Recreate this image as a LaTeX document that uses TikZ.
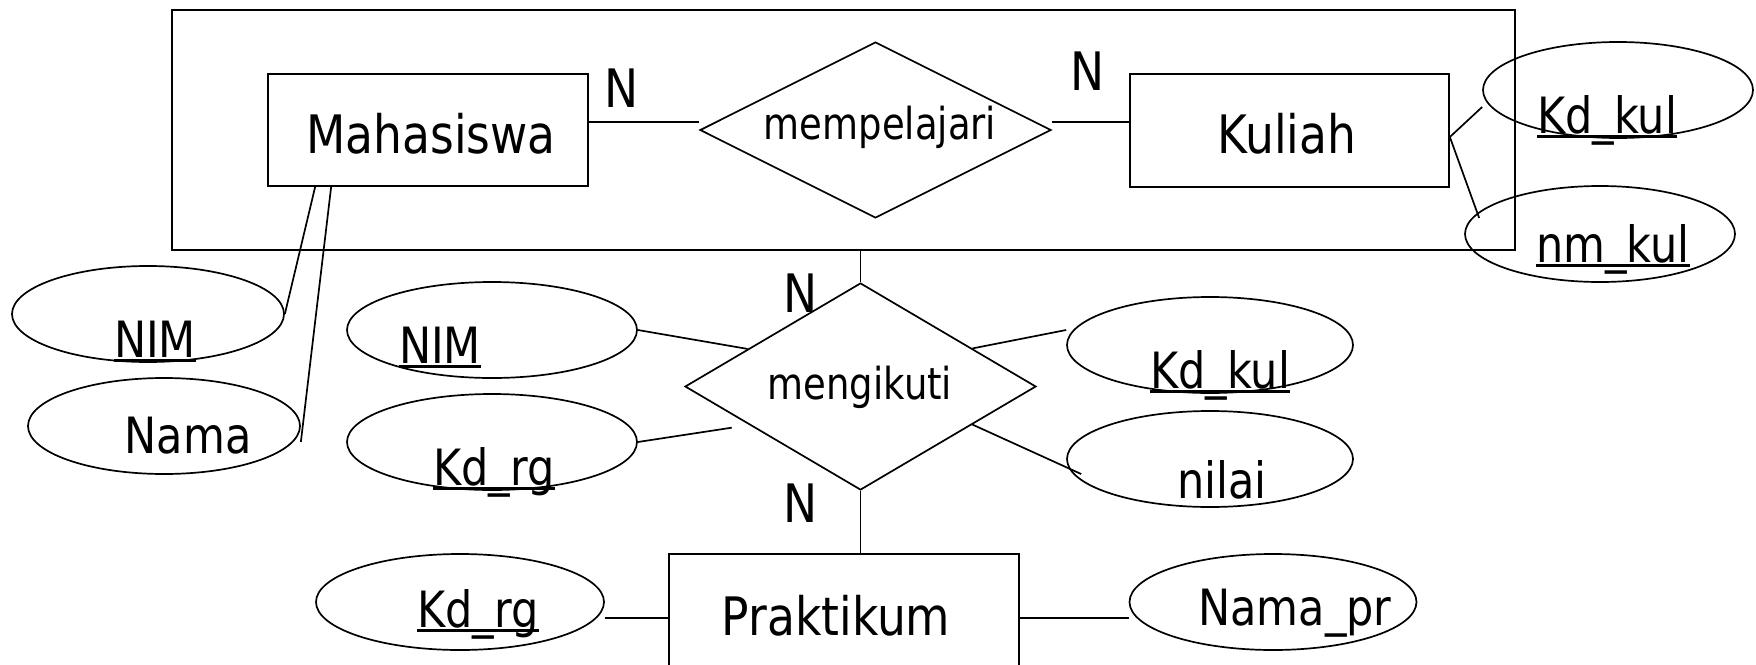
\documentclass[tikz,border=0pt]{standalone}
\usepackage{fontspec}
\setmainfont{DejaVu Sans}[FakeStretch=0.86]
\newfontfamily\relfont{DejaVu Sans}[FakeStretch=0.84]
\usetikzlibrary{shapes.geometric,calc}
\newcommand\ulx[1]{\setbox0\hbox{#1}\rlap{\vrule width\wd0 height -2pt depth 5pt}\box0}
\begin{document}
\begin{tikzpicture}[x=1pt,y=-1pt,line width=1.7pt,
  box/.style={draw,rectangle,inner sep=0pt},
  rel/.style={draw,diamond,inner sep=0pt},
  attr/.style={draw,ellipse,inner sep=0pt,minimum width=#1,minimum height=96pt},
  enttext/.style={font=\fontsize{53}{60}\selectfont,anchor=base,inner sep=0pt},
  reltext/.style={font=\relfont\fontsize{44}{50}\selectfont,anchor=base,inner sep=0pt},
  cardtext/.style={font=\fontsize{53}{60}\selectfont,anchor=base,inner sep=0pt},
  atttext/.style={font=\fontsize{50}{56}\selectfont,anchor=base,inner sep=0pt}]
\useasboundingbox (0,0) rectangle (1756,664);
\clip (0,0) rectangle (1756,664);
% aggregation box
\node[box,minimum width=1343pt,minimum height=240pt] (agg) at (843.5,130) {};
% entities
\node[box,minimum width=320pt,minimum height=112pt] (mhs) at (428,130) {};
\node[box,minimum width=319pt,minimum height=113pt] (kul) at (1289.5,130.5) {};
\node[box,minimum width=350pt,minimum height=128pt] (pr) at (844,618) {};
% relationships
\node[rel,minimum width=351pt,minimum height=176pt] (mp) at (875.5,130) {};
\node[rel,minimum width=351pt,minimum height=207pt] (mg) at (860.5,386.5) {};
% attributes
\node[attr=272pt] (anim1) at (148,314) {};
\node[attr=272pt] (anama) at (164,426) {};
\node[attr=290pt] (anim2) at (492,330) {};
\node[attr=290pt] (akdrg2) at (492,442) {};
\node[attr=286pt] (akdkul2) at (1210,345) {};
\node[attr=286pt] (anilai) at (1210,459) {};
\node[attr=270pt] (akdkul1) at (1618,90) {};
\node[attr=270pt] (anmkul) at (1600,234) {};
\node[attr=288pt] (akdrg3) at (460,602) {};
\node[attr=287pt] (anamapr) at (1273,602) {};
% texts
\node[enttext] (tmhs) at (431,153) {Mahasiswa};
\node[enttext] (tkul) at (1287,153) {Kuliah};
\node[enttext] (tpr) at (836,635) {Praktikum};
\node[reltext] (tmp) at (880,139) {mempelajari};
\node[reltext] (tmg) at (860,399) {mengikuti};
\node[cardtext] (n1) at (622,107) {N};
\node[cardtext] (n2) at (1088,90) {N};
\node[cardtext] (n3) at (801,312) {N};
\node[cardtext] (n4) at (801,522) {N};
\node[atttext] (tnim1) at (155,357) {\ulx{NIM}};
\node[atttext] (tnama) at (188,453) {Nama};
\node[atttext] (tnim2) at (440,363) {\ulx{NIM}};
\node[atttext] (tkdrg2) at (494,485) {\ulx{Kd\_rg}};
\node[atttext] (tkdkul2) at (1220,388) {\ulx{Kd\_kul}};
\node[atttext] (tnilai) at (1222,498) {nilai};
\node[atttext] (tkdkul1) at (1607,133) {\ulx{Kd\_kul}};
\node[atttext] (tnmkul) at (1613,262) {\ulx{nm\_kul}};
\node[atttext] (tkdrg3) at (478,627) {\ulx{Kd\_rg}};
\node[atttext] (tnamapr) at (1295,625) {Nama\_pr};
% connectors
\draw ([xshift=48pt]mhs.south west) -- (anim1.east);
\draw ([xshift=64pt]mhs.south west) -- ($(anama.east)+(0,16)$);
\draw ($(mhs.east)+(0,-8)$) -- ($(mp.west)+(0,-8)$);
\draw ($(mp.east)+(0,-8)$) -- ($(kul.west)+(0,-8.5)$);
\draw ($(kul.east)+(0,6.5)$) -- ($(akdkul1.west)+(0,17)$);
\draw ($(kul.east)+(0,6.5)$) -- ($(anmkul.west)+(15,-16)$);
\draw (mg.north |- agg.south) -- (mg.north);
\draw (mg.south) -- (mg.south |- pr.north);
\draw (anim2.east) -- ($(mg.west)!0.36!(mg.north)$);
\draw (akdrg2.east) -- ($(mg.west)!0.27!(mg.south)+(0,13)$);
\draw ($(mg.north)!0.635!(mg.east)$) -- ($(akdkul2.west)+(0,-15)$);
\draw ($(mg.east)!0.365!(mg.south)$) -- ($(anilai.west)+(15,15)$);
\coordinate (p1) at ($(akdrg3.east)+(0,16)$);
\draw (p1) -- (p1 -| pr.west);
\coordinate (p2) at ($(anamapr.west)+(0,16)$);
\draw (pr.east |- p2) -- (p2);
\end{tikzpicture}
\end{document}
